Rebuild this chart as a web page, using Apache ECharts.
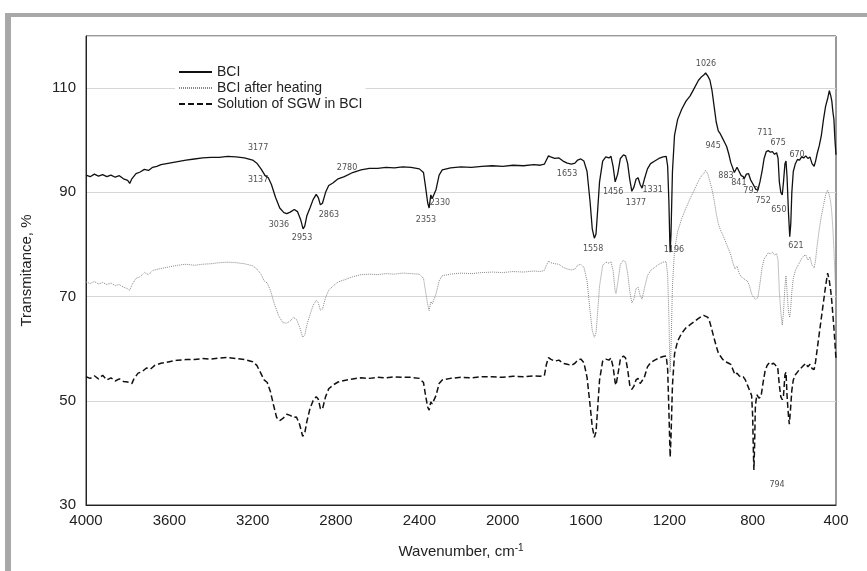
<!DOCTYPE html>
<html><head><meta charset="utf-8">
<script src="https://cdn.jsdelivr.net/npm/echarts@6/dist/echarts.min.js"></script>
<style>html,body{margin:0;padding:0;background:#fff}#c{width:867px;height:571px}</style>
</head><body><div id="c"></div>
<script>
const xTicks = [4000,3600,3200,2800,2400,2000,1600,1200,800,400];
const yTicks = [30,50,70,90,110];
const seriesNames = ['BCI','BCI after heating','Solution of SGW in BCI'];

const bci = [[4000,93.3],[3980,93.0],[3960,93.5],[3940,93.1],[3920,93.4],[3900,93.0],[3880,93.3],[3860,92.9],[3840,93.2],[3820,92.6],[3800,92.3],[3790,91.7],[3780,92.6],[3760,93.6],[3740,93.9],[3720,94.4],[3700,94.2],[3680,94.8],[3660,95.0],[3640,95.3],[3600,95.6],[3560,95.9],[3520,96.2],[3480,96.4],[3440,96.6],[3400,96.7],[3360,96.7],[3320,96.9],[3280,96.8],[3240,96.6],[3200,96.2],[3180,95.6],[3160,94.5],[3140,93.2],[3125,92.8],[3110,91.5],[3090,89],[3070,87],[3050,86.1],[3036,85.9],[3020,86.2],[3000,86.7],[2985,86.3],[2970,84.8],[2958,83.0],[2950,83.5],[2940,85.5],[2925,87.0],[2910,88.6],[2895,89.6],[2885,89.0],[2875,87.6],[2865,87.9],[2850,90.0],[2835,91.3],[2815,91.8],[2790,92.6],[2760,93.0],[2720,93.8],[2680,94.3],[2640,94.6],[2600,94.6],[2560,94.8],[2520,94.7],[2480,94.9],[2440,94.8],[2400,94.5],[2380,93.8],[2370,91],[2360,88],[2353,87.0],[2345,89.5],[2338,88.8],[2330,88.6],[2320,90.5],[2305,93.3],[2290,94.3],[2250,94.7],[2200,94.9],[2150,94.8],[2100,95.0],[2050,95.1],[2000,95.0],[1950,95.2],[1900,95.1],[1850,95.3],[1820,95.2],[1800,95.4],[1790,96.2],[1780,97.0],[1770,96.8],[1750,96.5],[1730,96.6],[1710,96.0],[1690,95.6],[1670,95.4],[1653,95.6],[1640,96.2],[1625,96.4],[1610,96.0],[1595,94],[1580,88],[1570,83],[1560,81.2],[1552,82],[1545,86],[1535,92],[1520,96.0],[1505,96.8],[1490,96.6],[1480,96.9],[1470,95],[1460,92.0],[1456,91.8],[1448,93.5],[1435,96.5],[1420,97.2],[1410,97.0],[1400,95.5],[1390,92.5],[1380,90.2],[1377,90.0],[1370,91.0],[1360,92.5],[1350,92.8],[1340,91.5],[1331,90.8],[1320,92.5],[1305,94.5],[1290,95.5],[1270,96.0],[1250,96.5],[1230,96.8],[1215,96.9],[1208,95],[1202,88],[1198,81],[1196,78.5],[1192,82],[1185,94],[1175,101],[1160,104],[1140,106],[1120,107.5],[1100,108.5],[1080,110],[1060,111.5],[1045,112.2],[1035,112.5],[1026,112.9],[1015,112.3],[1005,111.5],[995,109.5],[985,106.5],[975,103.5],[965,101.8],[955,101.2],[945,100.4],[935,99.6],[925,98.8],[915,97.4],[905,95.7],[895,94.6],[888,93.8],[883,93.5],[875,94.8],[865,94.0],[855,93.2],[845,93.0],[841,92.6],[830,93.5],[820,93.6],[810,92.4],[800,91.7],[793,91.2],[785,90.6],[775,90.4],[765,92],[755,94],[745,96.5],[735,97.8],[725,98.0],[715,97.7],[705,97.8],[695,97.3],[685,97.6],[678,96.5],[672,92],[665,90],[658,89.5],[652,92],[645,95.5],[640,96],[635,93],[628,86],[622,81.5],[617,84],[612,90],[605,94],[595,95.5],[585,96.3],[575,96.2],[565,96.8],[555,96.6],[545,97.0],[535,96.5],[525,96.8],[515,95.5],[505,95.0],[498,96],[490,97.5],[480,99],[470,101],[460,104],[450,106.5],[440,108],[432,109.5],[425,108.5],[420,107.5],[415,105.5],[410,104],[405,100],[400,97.2]];

const bciHeated = [[4000,72.8],[3980,72.5],[3960,72.9],[3940,72.4],[3920,72.7],[3900,72.3],[3880,72.6],[3860,72.1],[3840,72.3],[3820,71.8],[3800,71.5],[3790,71.2],[3780,72.2],[3760,73.5],[3740,73.8],[3720,74.6],[3700,74.2],[3680,75.0],[3650,75.3],[3600,75.7],[3560,76.0],[3520,76.2],[3480,76.0],[3440,76.2],[3400,76.3],[3360,76.5],[3320,76.6],[3280,76.5],[3240,76.3],[3200,75.9],[3180,75.3],[3160,74.3],[3145,73.0],[3130,72.6],[3115,71.2],[3095,68.5],[3075,66.3],[3055,65.0],[3036,64.9],[3020,65.3],[3005,66.0],[2990,65.6],[2975,64.2],[2960,62.2],[2950,62.6],[2940,64.5],[2925,66.5],[2910,68.3],[2895,69.3],[2885,68.8],[2875,67.4],[2865,67.6],[2850,69.8],[2835,71.2],[2815,72.0],[2790,72.8],[2760,73.2],[2720,73.8],[2680,74.2],[2640,74.3],[2600,74.2],[2560,74.4],[2520,74.3],[2480,74.5],[2440,74.4],[2400,74.3],[2380,73.5],[2370,71],[2360,68.5],[2353,67.3],[2345,69.0],[2338,68.6],[2330,68.8],[2320,70.5],[2305,73],[2290,74],[2250,74.3],[2200,74.5],[2150,74.4],[2100,74.6],[2050,74.7],[2000,74.6],[1950,74.8],[1900,74.7],[1850,74.9],[1820,74.8],[1800,75.0],[1790,76.0],[1780,76.8],[1770,76.5],[1750,76.3],[1730,76.2],[1710,75.6],[1690,75.3],[1670,75.1],[1653,75.3],[1640,76],[1625,76.2],[1610,75.6],[1595,73],[1580,67],[1570,63.5],[1560,62.2],[1552,63],[1545,66.5],[1535,72],[1520,76],[1505,76.6],[1490,76.4],[1480,76.7],[1470,75],[1460,71],[1456,70.6],[1448,72.5],[1435,76.2],[1420,77],[1410,76.6],[1400,74.5],[1390,71],[1380,68.8],[1377,68.6],[1370,69.5],[1360,71.5],[1350,71.8],[1340,70.2],[1331,69.5],[1320,71.5],[1305,74],[1290,75],[1270,75.6],[1250,76.2],[1230,76.6],[1215,76.7],[1208,74],[1202,66],[1198,58],[1196,55.5],[1192,60],[1185,72],[1175,79],[1160,82.5],[1140,85],[1120,87],[1100,88.8],[1080,90.5],[1060,92.2],[1045,93.2],[1035,93.6],[1026,94.2],[1015,93.5],[1005,92.0],[995,90.5],[985,88.5],[975,86],[965,84],[955,82.8],[945,82.0],[935,81.0],[925,80.0],[915,79.0],[905,78.0],[895,76.5],[885,75.3],[875,75.8],[865,74.5],[855,73.8],[845,73.5],[835,73.2],[825,73.0],[815,72],[805,70.5],[795,69.8],[785,69.5],[775,69.8],[765,72.5],[755,75.5],[745,77.2],[735,77.8],[725,78.4],[715,78.2],[705,78.5],[695,78.0],[685,78.2],[678,77],[672,71],[665,67],[658,64.5],[652,67],[645,72],[640,74],[635,71],[628,67],[622,66],[617,68],[612,71],[605,73.5],[595,75],[585,75.8],[575,76.5],[565,77.3],[555,77.8],[545,78.0],[535,77],[525,77.6],[515,76],[505,75.5],[498,77],[490,80],[480,83],[470,85.5],[460,87.5],[450,89.5],[440,90.4],[432,89.5],[425,88],[420,86],[415,83],[410,79],[405,74],[400,70.5]];

const sgwSolution = [[4000,54.6],[3980,54.3],[3960,54.8],[3940,54.2],[3920,54.9],[3900,54.0],[3880,54.4],[3860,53.8],[3840,54.2],[3820,53.7],[3800,53.6],[3780,53.3],[3770,54.2],[3750,55.3],[3730,55.6],[3710,56.3],[3690,56.1],[3670,56.8],[3640,57.2],[3600,57.5],[3560,57.8],[3520,57.9],[3480,57.9],[3440,58.1],[3400,58.0],[3360,58.2],[3320,58.3],[3280,58.1],[3240,57.9],[3200,57.5],[3180,56.8],[3160,55.2],[3145,54.0],[3130,53.5],[3115,51.8],[3100,49.2],[3085,46.8],[3070,46.2],[3055,46.6],[3036,47.4],[3020,47.2],[3005,46.8],[2990,46.9],[2975,45.5],[2960,43.2],[2950,43.8],[2940,46],[2925,48.5],[2910,50],[2895,50.8],[2885,50.3],[2875,48.5],[2865,48.4],[2850,50.8],[2835,52.3],[2815,53.0],[2790,53.6],[2760,53.9],[2720,54.2],[2680,54.4],[2640,54.3],[2600,54.5],[2560,54.4],[2520,54.6],[2480,54.5],[2440,54.5],[2400,54.3],[2380,53.5],[2370,51],[2360,48.8],[2353,48.2],[2345,49.8],[2338,49.4],[2330,49.5],[2320,51],[2305,53.3],[2290,54.0],[2250,54.3],[2200,54.5],[2150,54.4],[2100,54.6],[2050,54.6],[2000,54.5],[1950,54.7],[1900,54.6],[1850,54.8],[1820,54.7],[1800,54.8],[1790,57.0],[1780,58.3],[1770,58.0],[1750,57.6],[1730,57.8],[1710,57.2],[1690,57.0],[1670,56.8],[1653,57.2],[1640,57.8],[1625,58.0],[1610,57.3],[1595,54.5],[1580,49],[1570,45],[1560,43],[1552,44],[1545,48],[1535,54],[1520,57.6],[1505,58.0],[1490,57.8],[1480,58.2],[1470,56.5],[1460,53.5],[1456,53],[1448,54.8],[1435,58],[1420,58.6],[1410,58.2],[1400,56],[1390,53],[1380,52.2],[1377,52.0],[1370,52.8],[1360,54],[1350,54.3],[1340,53.3],[1331,53],[1320,54.5],[1305,56.5],[1290,57.3],[1270,57.8],[1250,58.2],[1230,58.5],[1215,58.6],[1208,56],[1202,48],[1198,42],[1196,39.2],[1192,43],[1185,53],[1175,59],[1160,61.5],[1140,63],[1120,64],[1100,64.6],[1080,65.2],[1060,65.8],[1045,66.2],[1035,66.4],[1026,66.6],[1015,66.0],[1005,65],[995,63.5],[985,62],[975,60.5],[965,59.2],[955,58.6],[945,58.0],[935,57.6],[925,57.4],[915,57.2],[905,57.0],[895,56.0],[885,55.0],[875,55.3],[865,54.8],[855,54.5],[845,54.6],[835,54.0],[825,53.0],[815,52],[805,51],[800,47],[797,41],[794,36.7],[791,41],[787,49],[780,51.2],[770,50.5],[760,50.8],[750,53.5],[740,55.8],[730,56.8],[720,57.3],[710,57.0],[700,57.2],[690,56.8],[680,56.5],[672,53],[665,50.8],[658,50.2],[652,51],[645,55],[640,55.5],[635,51],[628,47],[624,45.5],[619,48],[612,52],[605,54],[595,55],[585,55.5],[575,56],[565,56.4],[555,56.8],[545,57.2],[535,56.5],[525,57.0],[515,56.2],[505,56],[498,57.5],[490,60],[480,63],[470,66],[460,69],[450,72],[440,74.5],[432,73],[425,71],[420,69],[415,66.5],[410,64],[405,61],[400,58]];

const peakLabels = [[1024,114.6,'1026'],[3174,98.5,'3177'],[3174,92.4,'3137'],[3074,83.7,'3036'],[2963,81.2,'2953'],[2834,85.6,'2863'],[2747,94.7,'2780'],[2301,88,'2330'],[2368,84.7,'2353'],[1691,93.5,'1653'],[1470,90.1,'1456'],[1280,90.5,'1331'],[1360,88,'1377'],[1566,79.1,'1558'],[1178,78.9,'1196'],[990,98.9,'945'],[928,93.1,'883'],[866,91.8,'841'],[808,90.3,'793'],[750,88.3,'752'],[674,86.6,'650'],[741,101.4,'711'],[678,99.5,'675'],[587,97.2,'670'],[592,79.7,'621'],[683,33.8,'794']];

const chart = echarts.init(document.getElementById('c'));
const font = 'Liberation Sans, Arial, sans-serif';
chart.setOption({
  animation: false,
  backgroundColor: '#fff',
  graphic: [
    {type:'rect', shape:{x:5,y:13,width:862,height:4}, style:{fill:'#a8a8a8'}, z:100},
    {type:'rect', shape:{x:5,y:13,width:6,height:558}, style:{fill:'#a8a8a8'}, z:100}
  ],
  grid: {left:86, top:36, width:750, height:469, show:true, borderColor:'#333', borderWidth:1},
  legend: {
    data: seriesNames, orient:'vertical', left:175, top:62, itemWidth:33, itemHeight:14, itemGap:2,
    padding:[3,3,3,3], backgroundColor:'#fff',
    itemStyle:{color:'transparent', borderWidth:0, opacity:0},
    textStyle:{fontFamily:font, fontSize:14, color:'#222'}
  },
  xAxis: {
    type:'value', inverse:true, min:400, max:4000, interval:400,
    axisLine:{show:true, lineStyle:{color:'#222'}}, axisTick:{show:false}, splitLine:{show:false},
    axisLabel:{fontFamily:font, fontSize:15, color:'#222', margin:8,
      formatter: v => xTicks.includes(v) ? String(v) : ''},
    name:'{n|Wavenumber, cm}{s|-1}', nameLocation:'middle', nameGap:38,
    nameTextStyle:{rich:{n:{fontFamily:font, fontSize:15, color:'#222'}, s:{fontFamily:font, fontSize:10, color:'#222', verticalAlign:'top', padding:[0,0,8,0]}}}
  },
  yAxis: {
    type:'value', min:30, max:120, interval:20,
    axisLine:{show:true, lineStyle:{color:'#222'}}, axisTick:{show:false},
    splitLine:{show:true, lineStyle:{color:'#d6d6d6', width:1}},
    axisLabel:{fontFamily:font, fontSize:15, color:'#222', margin:10,
      formatter: v => yTicks.includes(v) ? String(v) : ''},
    name:'Transmitance, %', nameLocation:'middle', nameGap:52,
    nameTextStyle:{fontFamily:font, fontSize:15, color:'#222'}
  },
  series: [
    {name:seriesNames[0], type:'line', data:bci, symbol:'none', lineStyle:{color:'#111', width:1.3}, itemStyle:{color:'#111'}},
    {name:seriesNames[1], type:'line', data:bciHeated, symbol:'none', lineStyle:{color:'#888', width:1, type:[1,1]}, itemStyle:{color:'#888'}},
    {name:seriesNames[2], type:'line', data:sgwSolution, symbol:'none', lineStyle:{color:'#111', width:1.5, type:[6,3]}, itemStyle:{color:'#111'}},
    {name:'labels', type:'scatter', data:peakLabels, symbolSize:0, silent:true, z:5,
      label:{show:true, position:'inside', formatter:p => p.data[2], fontFamily:'DejaVu Sans, sans-serif', fontSize:8, color:'#222'}}
  ]
});
</script></body></html>
